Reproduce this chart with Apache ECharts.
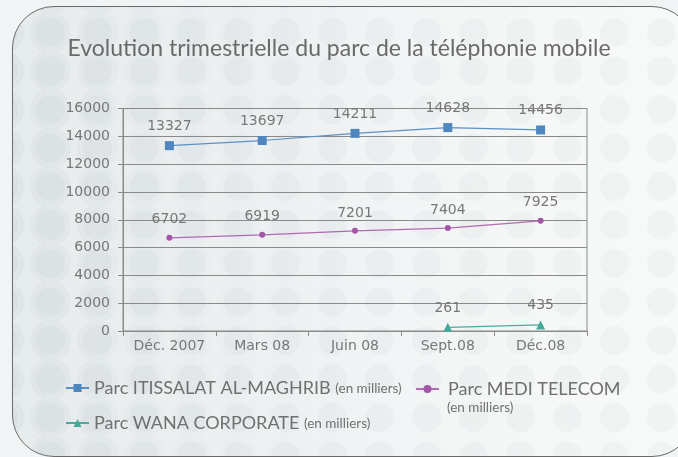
<!DOCTYPE html>
<html>
<head>
<meta charset="utf-8">
<script src="https://cdn.jsdelivr.net/npm/echarts@6/dist/echarts.min.js"></script>
<style>
  html, body { margin: 0; padding: 0; background: #f1f4f5; }
  .card {
    position: absolute; left: 12px; top: 6px; width: 682px; height: 451px;
    box-sizing: border-box; border: 1.5px solid #6a6a6a; border-radius: 42px;
    overflow: hidden;
    background:
      radial-gradient(circle at 23.5px 19.25px, rgba(110,130,140,0.05) 14px, rgba(110,130,140,0) 15px) 14px 6.25px / 47px 38.5px,
      linear-gradient(to right, #e6ebec 0%, #eef1f2 40%, #f5f7f7 75%, #f8f9f9 100%);
  }
  .card::before {
    content: ''; position: absolute; inset: 0;
    background: radial-gradient(circle at 23.5px 19.25px, rgba(110,130,140,0.05) 20px, rgba(110,130,140,0) 21px) 14px 6.25px / 47px 38.5px;
    -webkit-mask-image: linear-gradient(to right, #000 0%, rgba(0,0,0,0.4) 25%, transparent 50%);
    mask-image: linear-gradient(to right, #000 0%, rgba(0,0,0,0.4) 25%, transparent 50%);
  }
  #chart { position: absolute; left: 0; top: 0; width: 678px; height: 457px; }
</style>
</head>
<body>
<div class="card"></div>
<div id="chart"></div>
<script>
// trimestres
const periodes = ['Déc. 2007', 'Mars 08', 'Juin 08', 'Sept.08', 'Déc.08']
// parc en milliers d'abonnés
const parcIAM = [13327, 13697, 14211, 14628, 14456]
const parcMedi = [6702, 6919, 7201, 7404, 7925]
const parcWana = ['-', '-', '-', 261, 435]

const gris = '#777777'
const police = 'DejaVu Sans'

const chart = echarts.init(document.getElementById('chart'))

const etiquette = {
  show: true,
  position: 'top',
  distance: 8,
  color: gris,
  fontFamily: police,
  fontSize: 14,
}

const legendeCommune = {
  orient: 'vertical',
  itemWidth: 23,
  itemHeight: 10,
  itemGap: 7,
  textStyle: {
    color: '#707070',
    fontFamily: 'Lato',
    fontSize: 18,
    rich: {
      a: { color: '#707070', fontFamily: 'Lato', fontSize: 18, lineHeight: 22 },
      b: { color: '#707070', fontFamily: 'Lato', fontSize: 13.5, lineHeight: 22, verticalAlign: 'middle', padding: [2, 0, 0, 0] },
    },
  },
}

chart.setOption({
  title: {
    text: 'Evolution trimestrielle du parc de la téléphonie mobile',
    left: 'center',
    top: 32,
    textStyle: {
      color: '#6a6a6a',
      fontFamily: 'Lato',
      fontWeight: 'normal',
      fontSize: 23,
    },
  },
  grid: {
    left: 123,
    right: 91,
    top: 108.5,
    bottom: 126,
    show: true,
    borderColor: '#8a8a8a',
    borderWidth: 1,
  },
  legend: [
    Object.assign({}, legendeCommune, {
      data: ['Parc ITISSALAT AL-MAGHRIB'],
      left: 60,
      top: 374,
      formatter: (n) => '{a|' + n + '} {b|(en milliers)}',
    }),
    Object.assign({}, legendeCommune, {
      data: ['Parc MEDI TELECOM'],
      left: 410,
      top: 375,
      formatter: (n) => '{a|' + n + '}',
      textStyle: Object.assign({}, legendeCommune.textStyle, { padding: [0, 0, 0, 4] }),
    }),
    Object.assign({}, legendeCommune, {
      data: ['Parc WANA CORPORATE'],
      left: 60,
      top: 409,
      formatter: (n) => '{a|' + n + '} {b|(en milliers)}',
    }),
  ],
  graphic: [
    {
      type: 'text',
      left: 447,
      top: 401,
      style: { text: '(en milliers)', fill: '#707070', font: '13.5px Lato' },
    },
  ],
  xAxis: {
    type: 'category',
    data: periodes,
    boundaryGap: true,
    axisLine: { show: true, lineStyle: { color: '#8a8a8a', width: 1 } },
    axisTick: { show: true, length: 5, lineStyle: { color: '#8a8a8a' } },
    axisLabel: { color: gris, fontFamily: police, fontSize: 14, margin: 8, interval: 0 },
  },
  yAxis: {
    type: 'value',
    min: 0,
    max: 16000,
    interval: 2000,
    axisLine: { show: true, lineStyle: { color: '#8a8a8a', width: 1 } },
    axisTick: { show: true, length: 5, lineStyle: { color: '#8a8a8a' } },
    axisLabel: { color: gris, fontFamily: police, fontSize: 14, margin: 13, formatter: (v) => String(v) },
    splitLine: { show: true, lineStyle: { color: '#8a8a8a', width: 1 } },
  },
  series: [
    {
      name: 'Parc ITISSALAT AL-MAGHRIB',
      type: 'line',
      data: parcIAM,
      symbol: 'rect',
      symbolSize: 9,
      color: '#4f86bf',
      lineStyle: { width: 1.2, color: '#5b90c6' },
      label: etiquette,
    },
    {
      name: 'Parc MEDI TELECOM',
      type: 'line',
      data: parcMedi,
      symbol: 'circle',
      symbolSize: 6,
      color: '#a456a6',
      lineStyle: { width: 1.2, color: '#b06ab2' },
      label: etiquette,
    },
    {
      name: 'Parc WANA CORPORATE',
      type: 'line',
      data: parcWana,
      symbol: 'triangle',
      symbolSize: 9,
      color: '#46a898',
      lineStyle: { width: 1.2, color: '#4aab9c' },
      label: etiquette,
    },
  ],
})
</script>
</body>
</html>
